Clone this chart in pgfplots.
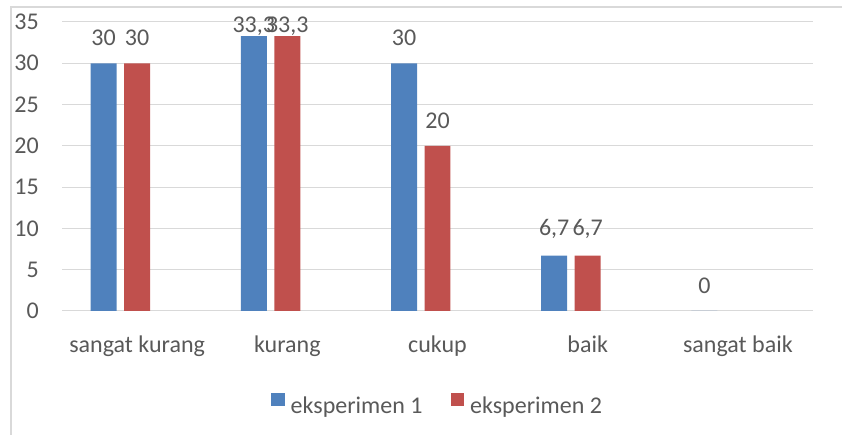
\documentclass[border=0pt]{standalone}
\usepackage{pgfplots}
\pgfplotsset{compat=1.18}
\usepackage{fontspec}
\setmainfont{Carlito}
\definecolor{eblue}{HTML}{4F81BD}
\definecolor{ered}{HTML}{C0504D}
\definecolor{txt}{HTML}{595959}
\definecolor{gridc}{HTML}{D9D9D9}
\pgfplotsset{/pgfplots/ybar legend/.style={/pgfplots/legend image code/.code={\path[##1,draw=none] (0pt,0pt) rectangle (13.7pt,13.7pt);}}}
\begin{document}
\begin{tikzpicture}[x=1pt,y=1pt]
\path[use as bounding box] (0,0) rectangle (842,435);
\draw[gridc, line width=1.5pt] (11,0) -- (11,428) -- (842,428);
\begin{axis}[
  at={(62pt,124pt)}, anchor=south west,
  scale only axis, width=751pt, height=289pt,
  xmin=-0.5, xmax=4.5, ymin=0, ymax=35,
  ytick={0,5,...,35},
  xtick={0,1,2,3,4},
  xticklabels={sangat kurang, kurang, cukup, baik, sangat baik},
  axis line style={draw=none},
  major tick length=0pt,
  ymajorgrids, grid style={gridc, line width=1pt},
  ybar, bar width=0.173, bar shift=0pt,
  clip=false,
  /pgf/number format/assume math mode=true,
  tick label style={text=txt, font=\fontsize{24}{28}\selectfont},
  yticklabel style={inner sep=0pt, anchor=east, xshift=-23pt},
  xticklabel style={inner sep=0pt, anchor=north, yshift=-25pt},
  nodes near coords, point meta=explicit symbolic,
  nodes near coords style={text=txt, inner sep=0pt, yshift=17pt, font=\fontsize{24}{28}\selectfont},
  legend columns=2,
  legend style={at={(0.5,-0.325)}, anchor=center, draw=none, fill=none,
    font=\fontsize{24}{28}\selectfont, text=txt,
    nodes={inner sep=2pt},
    /tikz/every odd column/.append style={column sep=4pt},
    /tikz/every even column/.append style={column sep=26pt}},
]
\addplot[fill=eblue, draw=none] coordinates {
  (-0.223,30) [30]
  (0.777,33.3) []
  (1.777,30) [30]
  (2.777,6.7) [6{,}7]
  (3.777,0) [0]
};
\addlegendentry{eksperimen 1}
\addplot[fill=ered, draw=none] coordinates {
  (0,30) [30]
  (1,33.3) []
  (2,20) [20]
  (3,6.7) [6{,}7]
};
\addlegendentry{eksperimen 2}
\addplot[fill=none, draw=none, forget plot, nodes near coords style={yshift=-16.5pt}] coordinates {
  (0.777,33.3) [33{,}3]
  (1,33.3) [33{,}3]
};
\end{axis}
\end{tikzpicture}
\end{document}
